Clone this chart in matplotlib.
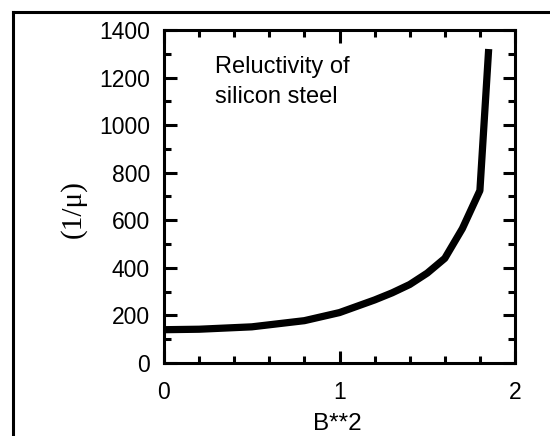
import matplotlib
matplotlib.use("Agg")
import matplotlib.pyplot as plt
from matplotlib.lines import Line2D
from matplotlib.ticker import MultipleLocator

# Data
b_squared = [0.0, 0.2, 0.5, 0.8, 1.0, 1.2, 1.3, 1.4, 1.5, 1.6, 1.7, 1.8, 1.85]
reluctivity = [140, 142, 152, 178, 212, 265, 295, 330, 378, 440, 565, 725, 1320]

x_ticks = [0, 1, 2]
y_ticks = [0, 200, 400, 600, 800, 1000, 1200, 1400]
annotation_lines = ["Reluctivity of", "silicon steel"]
x_label = "B**2"
y_label = "(1/\u03bc)"

W, H = 550, 436
fig = plt.figure(figsize=(W / 100, H / 100), dpi=100)
fig.patch.set_facecolor("white")

left, right, bottom, top = 164, 515, 363, 30
ax = fig.add_axes([left / W, 1 - bottom / H, (right - left) / W, (bottom - top) / H])

ax.plot(b_squared, reluctivity, color="black", lw=5.2, solid_capstyle="butt",
        solid_joinstyle="round")

ax.set_xlim(0, 2)
ax.set_ylim(0, 1400)
ax.set_xticks(x_ticks)
ax.set_yticks(y_ticks)
ax.xaxis.set_minor_locator(MultipleLocator(0.2))
ax.yaxis.set_minor_locator(MultipleLocator(100))

font = "Liberation Sans"
ax.tick_params(which="both", direction="in", top=True, right=True, color="black")
ax.tick_params(which="major", length=9, width=2.2)
ax.tick_params(which="minor", length=5, width=2.2)
ax.tick_params(axis="x", which="major", pad=13, labelsize=16.5)
ax.tick_params(axis="y", which="major", pad=10, labelsize=16.5)
for lab in ax.get_xticklabels() + ax.get_yticklabels():
    lab.set_family(font)

for sp in ax.spines.values():
    sp.set_linewidth(2.2)
    sp.set_color("black")

for i, line in enumerate(annotation_lines):
    fig.text(215 / W, 1 - (73 + 30 * i) / H, line, family=font, fontsize=17,
             ha="left", va="baseline")

fig.text(337 / W, 1 - 424 / H, x_label, family=font, fontsize=17.5,
         ha="center", va="center")
fig.text(73 / W, 1 - 209 / H, y_label, family="Liberation Serif", fontsize=21,
         rotation=90, ha="center", va="center")

# outer frame lines (top and left)
fig.add_artist(Line2D([13 / W, 548 / W], [1 - 12 / H, 1 - 12 / H],
                      transform=fig.transFigure, color="black", lw=2.2))
fig.add_artist(Line2D([13 / W, 13 / W], [1 - 12 / H, 0],
                      transform=fig.transFigure, color="black", lw=2.2))

fig.savefig("out.png", dpi=100, facecolor="white")
